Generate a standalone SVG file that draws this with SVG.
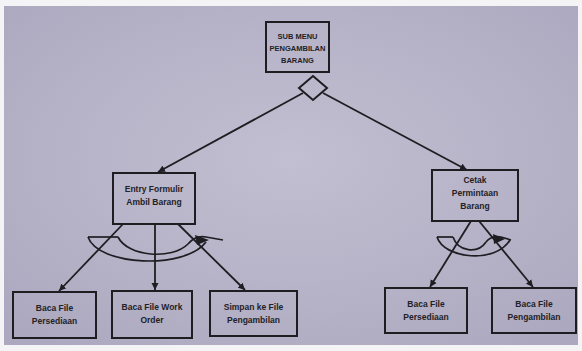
<svg xmlns="http://www.w3.org/2000/svg" width="582" height="351" viewBox="0 0 582 351">
  <defs>
    <radialGradient id="bg" cx="50%" cy="45%" r="70%">
      <stop offset="0" stop-color="#c3bfd2"/>
      <stop offset="1" stop-color="#aca8bf"/>
    </radialGradient>
    <marker id="arr" markerWidth="8" markerHeight="8" refX="7" refY="4" orient="auto" markerUnits="userSpaceOnUse">
      <path d="M0,0.5 L7,4 L0,7.5 Z" fill="#1e1e22"/>
    </marker>
  </defs>
  <style>
    .box { fill: none; stroke: #1e1e22; stroke-width: 2; }
    .ln { fill: none; stroke: #1e1e22; stroke-width: 1.8; }
    .sym { fill: none; stroke: #1e1e22; stroke-width: 1.7; stroke-linejoin: round; }
    text { font-family: "Liberation Sans", Arial, sans-serif; font-size: 8.5px; fill: #222226; text-anchor: middle; font-weight: bold; }
    .cap { font-size: 7.5px; }
  </style>
  <rect x="0" y="0" width="582" height="351" fill="#f4f3f6"/>
  <rect x="4" y="6" width="574" height="339" fill="url(#bg)"/>

  <g id="connectors">
    <path class="ln" d="M303,93 L158,172" marker-end="url(#arr)"/>
    <path class="ln" d="M323,93 L467,170" marker-end="url(#arr)"/>
    <path class="ln" d="M123,224 L59,291" marker-end="url(#arr)"/>
    <path class="ln" d="M155,224 L155,290" marker-end="url(#arr)"/>
    <path class="ln" d="M178,224 L245,290" marker-end="url(#arr)"/>
    <path class="ln" d="M471,221 L430,287" marker-end="url(#arr)"/>
    <path class="ln" d="M479,221 L533,287" marker-end="url(#arr)"/>
    <g id="loop-left">
      <path class="sym" d="M88,237 L118,237"/>
      <path class="sym" d="M88,237 C98,266 185,270 206,242"/>
      <path class="sym" d="M118,237 C128,257 172,260 188,244"/>
      <path class="sym" d="M188,244 C193,238 200,236 206,237 L223,240"/>
      <path d="M195,235 L209,240 L197,245 Z" fill="#1e1e22"/>
    </g>
    <g id="loop-right">
      <path class="sym" d="M437,237 L453,237"/>
      <path class="sym" d="M437,237 C444,259 496,264 510,240"/>
      <path class="sym" d="M453,237 C458,252 478,254 486,242"/>
      <path class="sym" d="M486,242 C490,237 496,236 501,237 L511,240"/>
      <path d="M493,234 L505,239 L494,244 Z" fill="#1e1e22"/>
    </g>
  </g>

  <g id="node-submenu">
    <rect class="box" x="266" y="22" width="63" height="50"/>
    <text class="cap" x="297.5" y="39">SUB MENU</text>
    <text class="cap" x="297.5" y="51">PENGAMBILAN</text>
    <text class="cap" x="297.5" y="63">BARANG</text>
    <path class="box" d="M313,76 L327,88 L313,100 L299,88 Z"/>
  </g>

  <g id="node-entry">
    <rect class="box" x="113" y="173" width="82" height="51"/>
    <text x="154" y="192">Entry Formulir</text>
    <text x="154" y="205">Ambil Barang</text>
  </g>

  <g id="node-cetak">
    <rect class="box" x="432" y="170" width="86" height="51"/>
    <text x="475" y="183">Cetak</text>
    <text x="475" y="196">Permintaan</text>
    <text x="475" y="209">Barang</text>
  </g>

  <g id="node-baca-persediaan-1">
    <rect class="box" x="13" y="292" width="83" height="46"/>
    <text x="54.5" y="311">Baca File</text>
    <text x="54.5" y="324">Persediaan</text>
  </g>

  <g id="node-baca-work-order">
    <rect class="box" x="112" y="291" width="80" height="47"/>
    <text x="152" y="310">Baca File Work</text>
    <text x="152" y="323">Order</text>
  </g>

  <g id="node-simpan-pengambilan">
    <rect class="box" x="210" y="291" width="87" height="45"/>
    <text x="253.5" y="310">Simpan ke File</text>
    <text x="253.5" y="323">Pengambilan</text>
  </g>

  <g id="node-baca-persediaan-2">
    <rect class="box" x="385" y="288" width="82" height="45"/>
    <text x="426" y="307">Baca File</text>
    <text x="426" y="320">Persediaan</text>
  </g>

  <g id="node-baca-pengambilan">
    <rect class="box" x="492" y="288" width="84" height="45"/>
    <text x="534" y="307">Baca File</text>
    <text x="534" y="320">Pengambilan</text>
  </g>
</svg>
